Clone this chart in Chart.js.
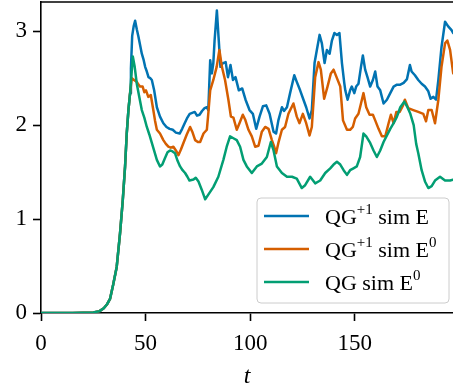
<!DOCTYPE html>
<html>
<head>
<meta charset="utf-8">
<script src="https://cdn.jsdelivr.net/npm/chart.js@4.4.1/dist/chart.umd.min.js"></script>
<style>
html,body{margin:0;padding:0;background:#fff;}
#wrap{width:453px;height:391px;position:relative;}
</style>
</head>
<body>
<div id="wrap"><canvas id="c" width="453" height="391"></canvas></div>
<script>
// shared early growth (all three curves coincide)
const tRise = [0, 5, 10, 15, 20, 25, 28, 30, 31.5, 33, 34.5, 36.2, 37.8, 39.1, 40.2, 41, 41.8, 42.6];
const vRise = [0, 0, 0, 0, 0.002, 0.005, 0.02, 0.05, 0.09, 0.15, 0.3, 0.49, 0.85, 1.2, 1.56, 1.91, 2.16, 2.34];

const tBlue = [43.0,43.6,44.3,45.0,45.8,46.6,47.4,48.2,49,49.8,50.6,51.4,52.2,53,54.1,55.4,56.9,58.5,60,61.5,63,64.5,66.3,67.5,68.7,70,71.1,72.3,73.5,74.6,75.8,77,78.2,79.3,80,80.9,81.7,82.4,83,84.1,85.0,85.8,87,88.3,89.4,90.6,91.8,93,94.6,96.2,97.8,99.7,101.3,102.9,104.5,106.1,107.7,109.3,111.2,112.4,113.5,115.2,116.2,117.6,119.1,121.1,122.3,123.9,125.5,126.8,128.4,129.5,130.8,131.9,133.2,134.3,135.6,136.7,138,139.1,140.3,141.5,142.7,143.9,145.0,145.5,146.6,147.8,148.6,149.8,150.7,151.8,153,153.9,155,156.1,157.4,158.7,159.8,160.9,162.2,163.8,165.4,167,168.6,170.2,171.8,173.4,175,176.4,177.2,178.8,180.4,182,183.6,185.2,186.3,187.6,188.9,190,191.5,193.2,194.7,196.3,197.1];
const vBlue = [2.6,2.95,3.05,3.11,3.02,2.94,2.85,2.76,2.7,2.62,2.57,2.51,2.5,2.48,2.37,2.19,2.09,2.02,1.98,1.96,1.95,1.92,1.91,1.96,2.02,2.08,2.12,2.13,2.14,2.10,2.11,2.15,2.18,2.19,2.16,2.69,2.55,2.66,2.90,3.22,2.90,2.62,2.66,2.67,2.51,2.64,2.48,2.51,2.37,2.39,2.27,2.16,2.12,1.96,2.09,2.20,2.21,2.12,1.93,1.91,2.05,2.19,2.15,2.19,2.34,2.53,2.46,2.37,2.27,2.19,2.07,2.16,2.66,2.80,2.96,2.87,2.66,2.80,2.76,2.90,2.98,2.96,2.98,2.66,2.45,2.37,2.27,2.37,2.41,2.34,2.41,2.44,2.62,2.74,2.59,2.51,2.41,2.48,2.57,2.41,2.37,2.23,2.27,2.34,2.41,2.43,2.43,2.45,2.49,2.64,2.57,2.53,2.48,2.44,2.41,2.36,2.28,2.30,2.27,2.48,2.83,3.10,3.05,3.01,2.98];

const tOrange = [43.4,44.5,45.8,46.6,47.4,48.6,49.4,50.2,51.3,52.5,53.7,54.5,55.4,56.9,58.5,59.7,60.9,62,63.3,64.5,65.7,66.9,68.1,69.7,71.3,72.5,73.7,75,76.1,77.7,79.3,80.1,80.9,82.4,84,85.3,86.5,88,89.6,90.8,92,93.6,94.9,96.5,97.6,99.2,100.8,102.4,104,105.6,107.2,108.8,110.4,111.5,112.4,113.5,115.2,116.7,118.3,120.7,122.3,123.6,125.2,126.8,128.4,129.5,131.1,132.7,133.8,135.4,137,138.6,139.9,141.5,143.1,144.4,146.3,147.8,149.1,150.2,151.8,153,154.2,155.5,157.1,158.7,159.8,161.4,163,164.6,166.2,167.3,168.6,169.9,171.5,173.1,174,175.6,178,180.4,182.8,184.1,185.2,186.8,188.4,190,191.5,193.2,194.3,195.6,197.1];
const vOrange = [2.50,2.48,2.46,2.43,2.41,2.41,2.35,2.37,2.30,2.32,2.16,2.05,1.95,1.91,1.84,1.80,1.77,1.76,1.77,1.73,1.68,1.74,1.81,1.90,1.98,1.92,1.84,1.82,1.82,1.91,1.95,2.15,2.37,2.48,2.62,2.80,2.62,2.48,2.27,2.09,2.08,1.95,2.02,2.11,2.06,1.95,1.88,1.77,1.78,1.93,1.98,1.96,1.84,1.77,1.70,1.81,1.95,1.98,2.12,2.23,2.09,2.02,2.12,2.02,1.89,1.98,2.51,2.67,2.59,2.28,2.41,2.55,2.59,2.50,2.41,2.05,1.95,1.95,1.98,2.07,2.12,2.23,2.34,2.19,2.11,2.11,2.05,1.96,1.88,1.88,2.02,2.11,2.02,2.14,2.14,2.21,2.27,2.18,2.16,2.14,2.12,2.04,2.16,2.16,2.02,2.27,2.62,2.87,2.90,2.80,2.55];

const tGreen = [43.9,44.8,45.8,47,48.2,49.4,50.6,51.8,53,54.2,55.4,56.9,58,59.3,60.5,61.7,62.9,64.1,65.3,66.5,67.7,68.9,70,71,72.9,74,75.3,76.9,78.5,80,82.4,84.8,87.2,88.8,90.4,92,93.6,95.2,96.8,98.4,100.8,103.2,105.6,108,109.9,111.2,112.8,115.2,117.6,120,122.3,124.7,126.3,128.7,131.1,133.5,135.9,138.3,139.9,141.5,143.1,144.7,146.3,147.8,149.4,151,152.6,154.2,155.5,157.4,159,160.6,162.2,163.8,165.4,167,168.6,170.2,171.8,173.7,175,176.6,178.2,179.4,180.4,182,183.6,185.2,186.8,188.4,190.8,193.2,195.6,197.1];
const vGreen = [2.73,2.62,2.44,2.30,2.16,2.08,1.98,1.90,1.81,1.72,1.63,1.56,1.58,1.65,1.71,1.73,1.72,1.70,1.62,1.56,1.52,1.49,1.45,1.41,1.42,1.44,1.40,1.31,1.21,1.26,1.34,1.45,1.63,1.77,1.88,1.86,1.84,1.77,1.63,1.56,1.49,1.56,1.59,1.66,1.82,1.73,1.56,1.49,1.45,1.45,1.43,1.33,1.36,1.45,1.38,1.41,1.49,1.54,1.58,1.61,1.58,1.52,1.47,1.52,1.54,1.56,1.66,1.91,1.88,1.81,1.73,1.66,1.73,1.82,1.89,1.96,2.02,2.09,2.19,2.25,2.20,2.12,2.00,1.80,1.70,1.52,1.40,1.33,1.35,1.41,1.45,1.41,1.41,1.42];

const xTicks = [0, 50, 100, 150];
const yTicks = [0, 1, 2, 3];
const seriesNames = [
  [["QG", false], ["+1", true], [" sim E", false]],
  [["QG", false], ["+1", true], [" sim E", false], ["0", true]],
  [["QG sim E", false], ["0", true]]
];
const colors = ['#0173B2', '#D55E00', '#029E73'];

function pts(t, v) {
  const a = tRise.map((x, i) => ({x: x, y: vRise[i]}));
  return a.concat(t.map((x, i) => ({x: x, y: v[i]})));
}

const FONT = "'Liberation Serif', 'Times New Roman', serif";

const frame = {
  id: 'frame',
  afterDatasetsDraw(chart) {
    const {ctx, chartArea: a} = chart;
    ctx.save();
    ctx.strokeStyle = '#000';
    ctx.lineWidth = 1.6;
    ctx.beginPath();
    ctx.moveTo(a.left, a.top);
    ctx.lineTo(a.right + 2, a.top);
    ctx.stroke();
    ctx.restore();
  },
  afterDraw(chart) {
    const ctx = chart.ctx;
    const bx = 257, by = 198, bw = 192, bh = 105, r = 4;
    ctx.save();
    ctx.beginPath();
    ctx.moveTo(bx + r, by);
    ctx.arcTo(bx + bw, by, bx + bw, by + bh, r);
    ctx.arcTo(bx + bw, by + bh, bx, by + bh, r);
    ctx.arcTo(bx, by + bh, bx, by, r);
    ctx.arcTo(bx, by, bx + bw, by, r);
    ctx.closePath();
    ctx.fillStyle = 'rgba(255,255,255,0.8)';
    ctx.fill();
    ctx.strokeStyle = '#cccccc';
    ctx.lineWidth = 1;
    ctx.stroke();
    const rows = [216, 249, 282];
    seriesNames.forEach((parts, i) => {
      const cy = rows[i];
      ctx.strokeStyle = colors[i];
      ctx.lineWidth = 2.5;
      ctx.beginPath();
      ctx.moveTo(264, cy);
      ctx.lineTo(309, cy);
      ctx.stroke();
      let x = 325;
      ctx.fillStyle = '#000';
      ctx.textBaseline = 'alphabetic';
      ctx.textAlign = 'left';
      parts.forEach(([txt, sup]) => {
        ctx.font = (sup ? '15px ' : '22px ') + FONT;
        const y = sup ? cy - 2 : cy + 8;
        ctx.fillText(txt, x, y);
        x += ctx.measureText(txt).width;
      });
    });
    ctx.restore();
  }
};

new Chart(document.getElementById('c'), {
  type: 'line',
  data: {
    datasets: [
      {data: pts(tBlue, vBlue), borderColor: colors[0], order: 3},
      {data: pts(tOrange, vOrange), borderColor: colors[1], order: 2},
      {data: pts(tGreen, vGreen), borderColor: colors[2], order: 1}
    ]
  },
  options: {
    responsive: false,
    animation: false,
    elements: {
      point: {radius: 0},
      line: {borderWidth: 2.5, tension: 0, borderCapStyle: 'round', borderJoinStyle: 'round'}
    },
    layout: {padding: {left: 0, right: 0, top: 2, bottom: 0}},
    plugins: {legend: {display: false}, tooltip: {enabled: false}},
    scales: {
      x: {
        type: 'linear',
        min: 0, max: 197,
        afterBuildTicks: s => { s.ticks = xTicks.map(v => ({value: v})); },
        afterFit: s => { s.height = 78; s.paddingLeft = 0; s.paddingRight = 0; },
        grid: {drawOnChartArea: false, drawTicks: true, tickLength: 8, tickWidth: 1.6, tickColor: '#000'},
        border: {display: true, color: '#000', width: 1.6},
        ticks: {color: '#000', font: {family: FONT, size: 23}, padding: 9, maxRotation: 0},
        title: {display: true, text: 't', color: '#000', font: {family: FONT, size: 24, style: 'italic'}, padding: {top: 0, bottom: 0}}
      },
      y: {
        type: 'linear',
        min: 0, max: 3.31,
        afterBuildTicks: s => { s.ticks = yTicks.map(v => ({value: v})); },
        afterFit: s => { s.width = 41; s.paddingTop = 0; s.paddingBottom = 0; },
        grid: {drawOnChartArea: false, drawTicks: true, tickLength: 8, tickWidth: 1.6, tickColor: '#000'},
        border: {display: true, color: '#000', width: 1.6},
        ticks: {color: '#000', font: {family: FONT, size: 23}, padding: 6}
      }
    }
  },
  plugins: [frame]
});
</script>
</body>
</html>
